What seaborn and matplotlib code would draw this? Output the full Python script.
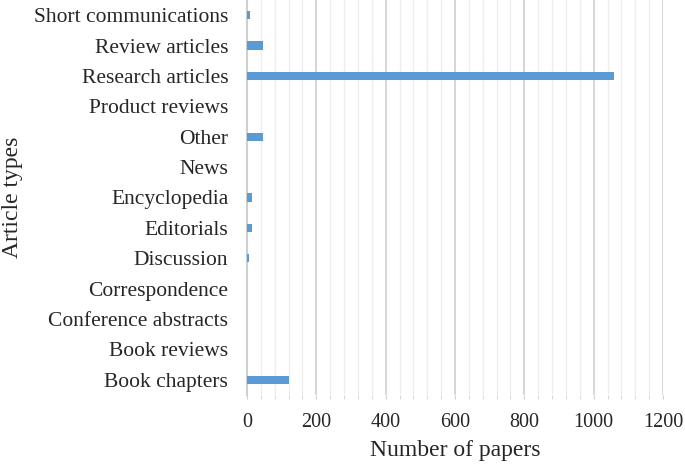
import pandas as pd
import seaborn as sns
import matplotlib.pyplot as plt
from matplotlib.ticker import MultipleLocator

# data (top to bottom as shown)
types = ['Short communications', 'Review articles', 'Research articles',
         'Product reviews', 'Other', 'News', 'Encyclopedia', 'Editorials',
         'Discussion', 'Correspondence', 'Conference abstracts',
         'Book reviews', 'Book chapters']
papers = [9, 45, 1060, 0, 45, 0, 15, 15, 5, 0, 0, 0, 122]

df = pd.DataFrame({'type': types, 'papers': papers})

sns.set_style('white')
plt.rcParams['font.family'] = ['Liberation Serif', 'DejaVu Serif']

fig = plt.figure(figsize=(6.85, 4.67), dpi=100)
ax = fig.add_axes([247 / 685, 1 - 395 / 467, (663 - 247) / 685, 395 / 467])

sns.barplot(data=df, x='papers', y='type', order=types, color='#5b9bd5',
            width=0.27, saturation=1, linewidth=0, ax=ax, zorder=3)

ax.set_xlim(0, 1200)
ax.set_ylim(len(types) - 0.5, -0.5)
ax.xaxis.set_major_locator(MultipleLocator(200))
ax.xaxis.set_minor_locator(MultipleLocator(40))
ax.grid(axis='x', which='major', color='#d0d0d0', linewidth=1.2, zorder=0)
ax.grid(axis='x', which='minor', color='#eeeeee', linewidth=1.0, zorder=0)
ax.set_axisbelow(True)

for s in ['top', 'right', 'bottom']:
    ax.spines[s].set_visible(False)
ax.spines['left'].set_color('#cfcfcf')
ax.spines['left'].set_linewidth(1.5)

ax.tick_params(axis='x', which='both', bottom=True, length=3, color='#d0d0d0',
               labelsize=14.5, pad=10)
ax.tick_params(axis='y', left=False, labelsize=15.5, pad=10)

ax.set_xlabel('Number of papers', fontsize=17, labelpad=6)
ax.set_ylabel('Article types', fontsize=17)
ax.yaxis.set_label_coords(-224 / 416, 0.5)

fig.savefig('out.png', dpi=100)
